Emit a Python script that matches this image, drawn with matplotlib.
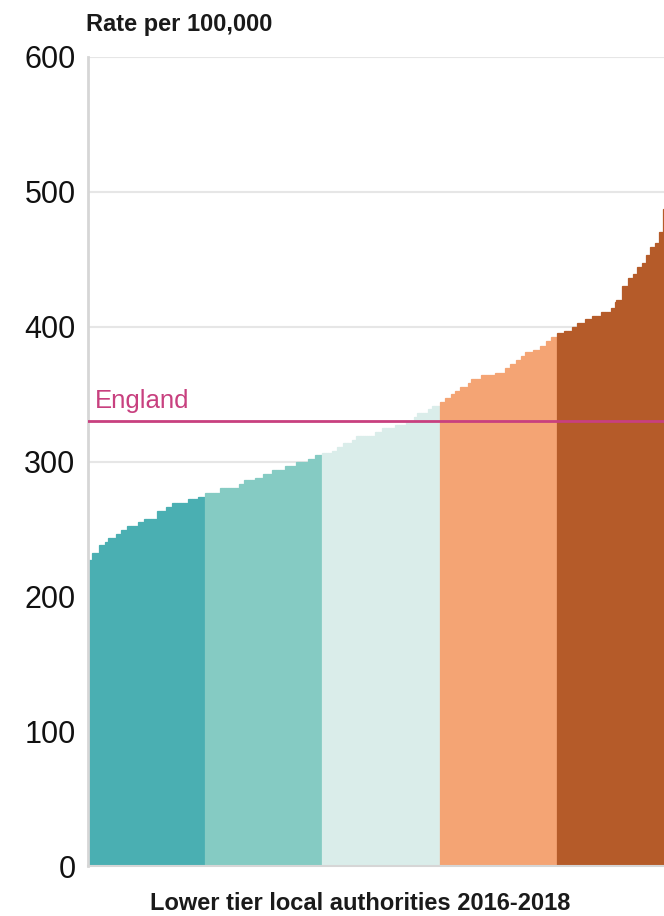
import numpy as np
import matplotlib
matplotlib.use('Agg')
import matplotlib.pyplot as plt


# step values (rate per 100,000) and how many authorities share each step, per quintile
q1_values = [227, 232, 238, 240, 243, 246, 249, 252, 255, 257, 263, 266, 269, 272, 274]
q1_counts = [2, 4, 3, 2, 4, 3, 3, 6, 3, 7, 5, 3, 9, 5, 4]

q2_values = [277, 280, 283, 286, 288, 291, 294, 297, 300, 302, 305]
q2_counts = [8, 10, 3, 6, 4, 5, 7, 6, 6, 4, 4]

q3_values = [306, 308, 311, 314, 316, 319, 322, 325, 327, 330, 333, 336, 339, 341]
q3_counts = [5, 3, 3, 5, 2, 10, 4, 7, 6, 4, 2, 6, 2, 4]

q4_values = [344, 347, 350, 352, 355, 358, 361, 364, 366, 369, 372, 375, 378, 381,
             383, 386, 389, 392]
q4_counts = [3, 3, 2, 3, 4, 2, 5, 8, 5, 3, 3, 3, 2, 4, 4, 3, 3, 3]

q5_values = [395, 397, 400, 403, 406, 408, 411, 414, 418, 420, 430, 436, 439, 444,
             447, 453, 459, 462, 470, 487]
q5_counts = [4, 4, 3, 4, 4, 5, 5, 2, 1, 3, 3, 3, 2, 3, 2, 2, 3, 2, 2, 1]

quintile_colors = ['#4aafb2', '#85cbc3', '#daedea', '#f4a474', '#b55b29']
england_rate = 330
yticks = [0, 100, 200, 300, 400, 500, 600]

quintiles = [(q1_values, q1_counts), (q2_values, q2_counts), (q3_values, q3_counts),
             (q4_values, q4_counts), (q5_values, q5_counts)]

plt.rcParams['font.family'] = ['Liberation Sans', 'DejaVu Sans']

fig = plt.figure(figsize=(6.64, 9.16), dpi=100)
ax = fig.add_axes([88 / 664, 50 / 916, 576 / 664, 809 / 916])

start = 0
for (vals, counts), col in zip(quintiles, quintile_colors):
    rates = np.repeat(vals, counts)
    x = np.arange(start, start + len(rates)) + 0.5
    ax.bar(x, rates, width=1.0, color=col, edgecolor=col, linewidth=0.9, zorder=2)
    start += len(rates)

ax.axhline(england_rate, color='#c8407f', linewidth=2, zorder=3)
ax.text(start * 0.012, england_rate + 6, 'England', color='#c8407f', fontsize=18.5,
        ha='left', va='bottom')

ax.set_xlim(0, start - 0.4)
ax.set_ylim(0, 600)
ax.set_yticks(yticks)
ax.set_yticklabels([str(t) for t in yticks], fontsize=22, color='#111111')
ax.tick_params(axis='y', length=0, pad=9)
ax.set_xticks([])
ax.grid(axis='y', color='#e6e6e6', linewidth=1.5, zorder=0)
ax.set_axisbelow(True)
for side in ['top', 'right']:
    ax.spines[side].set_visible(False)
ax.spines['left'].set_color('#d6d6d6')
ax.spines['left'].set_linewidth(2)
ax.spines['bottom'].set_color('#d6d6d6')
ax.spines['bottom'].set_linewidth(1.5)
for lbl in ax.get_yticklabels():
    lbl.set_verticalalignment('center_baseline')

fig.text(86 / 664, 1 - 25 / 916, 'Rate per 100,000', fontsize=17, fontweight='bold',
         color='#1a1a1a', ha='left', va='center')
fig.text(360 / 664, 1 - 904 / 916, 'Lower tier local authorities 2016-2018', fontsize=17,
         fontweight='bold', color='#1a1a1a', ha='center', va='center')

fig.savefig('out.png', dpi=100)
